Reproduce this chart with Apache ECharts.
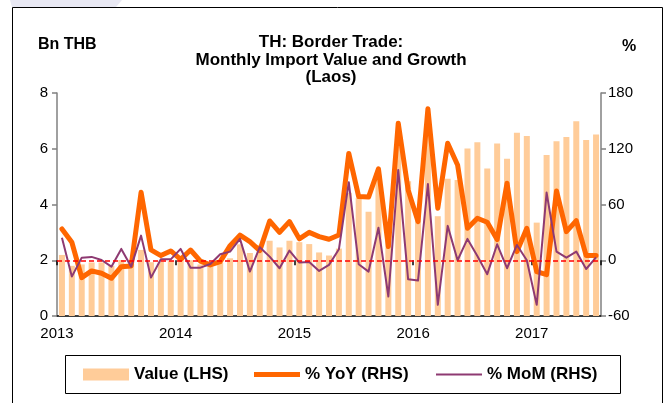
<!DOCTYPE html>
<html>
<head>
<meta charset="utf-8">
<script src="https://cdn.jsdelivr.net/npm/echarts@6/dist/echarts.min.js"></script>
<style>
  html, body { margin: 0; padding: 0; background: #fff; }
  #chart { width: 667px; height: 403px; }
</style>
</head>
<body>
<div id="chart"></div>
<script>
// year tick labels (one per 12 months, Jan 2013 .. Jul 2017)
const yearLabels = ['2013', '2014', '2015', '2016', '2017']
const monthCount = 55
const months = []
for (let i = 0; i < monthCount; i++) {
  months.push(yearLabels[Math.floor(i / 12)] + '-' + String((i % 12) + 1).padStart(2, '0'))
}

// Bn THB, left axis
const importValue = [
  2.19, 1.80, 1.85, 1.92, 1.92, 1.80, 2.01, 1.87, 2.37, 1.93, 1.95, 1.97,
  2.15, 2.00, 1.85, 1.78, 1.90, 2.07, 2.57, 2.26, 2.55, 2.70, 2.46, 2.70,
  2.65, 2.58, 2.28, 2.17, 2.42, 4.42, 4.23, 3.74, 5.07, 3.09, 6.09, 4.83,
  3.77, 6.86, 3.58, 4.92, 4.88, 6.01, 6.23, 5.29, 6.19, 5.64, 6.57, 6.46,
  3.35, 5.78, 6.27, 6.42, 6.99, 6.31, 6.51,
]
// % YoY, right axis
const yoy = [
  33.7, 19.4, -18.7, -11.5, -14, -19.4, -6.9, -6.1, 73.2, 11.1, 5, 10,
  1, 11, -1, -5, -1.5, 15.7, 27, 20, 10.4, 42.3, 30, 41.6,
  23, 30, 25.4, 22.6, 27.2, 115, 68.5, 68, 98.3, 14.7, 147.5, 75.7,
  41.6, 163, 56, 126, 102.6, 34.4, 45.2, 40.9, 22.3, 82.9, 9.3, 34.4,
  -12.2, -15.5, 74.6, 30.8, 42.6, 5, 5,
]
// % MoM, right axis
const mom = [
  24.3, -17.6, 2.8, 3.6, 0.3, -6.9, 12.2, -6.9, 26.5, -18.7, 1, 1,
  12.2, -8, -8, -4, 6.4, 9.3, 23, -12.2, 14, 3.9, -8.6, 10.4,
  -2.5, -2, -11.5, -5, 11.8, 84, -4.3, -12.2, 35, -39, 97.2, -20.5,
  -21.9, 82, -48, 37, 0, 23, 4.6, -15, 17.2, -8.6, 16.5, 0,
  -48, 72.8, 9.3, 2.8, 9.3, -9.4, 3.2,
]

const font = 'Arial, "Liberation Sans", sans-serif'
const chart = echarts.init(document.getElementById('chart'))

const option = {
  animation: false,
  backgroundColor: '#fff',
  title: {
    text: 'TH: Border Trade:\nMonthly Import Value and Growth\n(Laos)',
    left: 331,
    top: 34,
    textAlign: 'center',
    padding: 0,
    textStyle: {
      fontFamily: font,
      fontSize: 17,
      fontWeight: 'bold',
      color: '#000',
      lineHeight: 17.5,
    },
  },
  graphic: [
    {
      type: 'polygon',
      shape: { points: [[10, 0], [122, 0], [116, 7], [12, 7]] },
      style: { fill: '#e8e8f3' },
      silent: true,
    },
    {
      type: 'rect',
      shape: { x: 12.5, y: 7.5, width: 650, height: 410 },
      style: { fill: 'none', stroke: '#000', lineWidth: 1 },
      silent: true,
    },
    {
      type: 'text',
      left: 38,
      top: 37,
      style: { text: 'Bn THB', fontFamily: font, fontSize: 16, fontWeight: 'bold', fill: '#000' },
    },
    {
      type: 'text',
      left: 622,
      top: 39,
      style: { text: '%', fontFamily: font, fontSize: 16, fontWeight: 'bold', fill: '#000' },
    },
    // legend frame
    {
      type: 'rect',
      shape: { x: 65.5, y: 355.5, width: 555, height: 38 },
      style: { fill: 'none', stroke: '#000', lineWidth: 1 },
      silent: true,
    },
  ],
  legend: [
    {
      data: [{ name: 'Value (LHS)', icon: 'rect' }],
      left: 83,
      top: 366,
      padding: 0,
      itemWidth: 46,
      itemHeight: 12,
      selectedMode: false,
      textStyle: { fontFamily: font, fontSize: 17, fontWeight: 'bold', color: '#000', lineHeight: 16 },
    },
    {
      data: [{ name: '% YoY (RHS)', icon: 'path://M0,0h46v5h-46z' }],
      left: 254,
      top: 366,
      padding: 0,
      itemWidth: 46,
      itemHeight: 12,
      selectedMode: false,
      textStyle: { fontFamily: font, fontSize: 17, fontWeight: 'bold', color: '#000', lineHeight: 16 },
    },
    {
      data: [{ name: '% MoM (RHS)', icon: 'path://M0,0h46v2h-46z' }],
      left: 436,
      top: 366,
      padding: 0,
      itemWidth: 46,
      itemHeight: 12,
      selectedMode: false,
      textStyle: { fontFamily: font, fontSize: 17, fontWeight: 'bold', color: '#000', lineHeight: 16 },
    },
  ],
  grid: {
    left: 57,
    right: 66,
    top: 93,
    bottom: 87,
  },
  xAxis: [
    {
      type: 'category',
      data: months,
      axisLine: { show: true, lineStyle: { color: '#000', width: 1.5 } },
      axisTick: { show: false },
      axisLabel: { show: false },
      splitLine: { show: false },
    },
    {
      // year ticks sit on month boundaries, so they get their own value axis
      type: 'value',
      position: 'bottom',
      min: 0,
      max: monthCount,
      interval: 12,
      axisLine: { show: false },
      axisTick: { show: true, inside: false, length: 5, lineStyle: { color: '#000', width: 1.5 } },
      axisLabel: {
        fontFamily: font,
        fontSize: 15,
        color: '#000',
        margin: 10,
        formatter: (v) => (v % 12 === 0 && yearLabels[v / 12]) || '',
      },
      splitLine: { show: false },
    },
  ],
  yAxis: [
    {
      type: 'value',
      min: 0,
      max: 8,
      interval: 2,
      axisLine: { show: true, lineStyle: { color: '#808080', width: 1.5 } },
      axisTick: { show: true, inside: false, length: 5, lineStyle: { color: '#808080', width: 1.5 } },
      axisLabel: { fontFamily: font, fontSize: 15, color: '#000', margin: 9 },
      splitLine: { show: false },
    },
    {
      type: 'value',
      min: -60,
      max: 180,
      interval: 60,
      position: 'right',
      axisLine: { show: true, lineStyle: { color: '#808080', width: 1.5 } },
      axisTick: { show: true, inside: false, length: 5, lineStyle: { color: '#808080', width: 1.5 } },
      axisLabel: { fontFamily: font, fontSize: 15, color: '#000', margin: 7 },
      splitLine: { show: false },
    },
  ],
  series: [
    {
      name: 'Value (LHS)',
      type: 'bar',
      xAxisIndex: 0,
      yAxisIndex: 0,
      barWidth: 6,
      itemStyle: { color: '#ffcc99' },
      data: importValue,
    },
    {
      name: '% YoY (RHS)',
      type: 'line',
      xAxisIndex: 0,
      yAxisIndex: 1,
      symbol: 'none',
      color: '#ff6600',
      lineStyle: { color: '#ff6600', width: 5, join: 'round', cap: 'round' },
      data: yoy,
      markLine: {
        silent: true,
        symbol: 'none',
        label: { show: false },
        lineStyle: { color: '#ff0000', width: 1.5, type: [5, 3] },
        data: [{ yAxis: 0 }],
      },
    },
    {
      name: '% MoM (RHS)',
      type: 'line',
      xAxisIndex: 0,
      yAxisIndex: 1,
      symbol: 'none',
      color: '#8e3a72',
      lineStyle: { color: '#8e3a72', width: 2, join: 'round' },
      data: mom,
    },
  ],
}

chart.setOption(option)
</script>
</body>
</html>
